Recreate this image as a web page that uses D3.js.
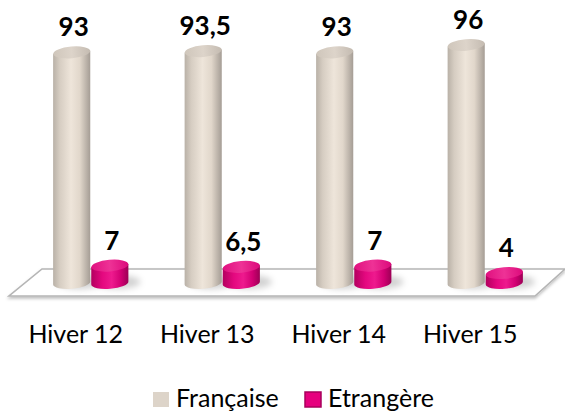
<!DOCTYPE html>
<html>
<head>
<meta charset="utf-8">
<script src="https://cdn.jsdelivr.net/npm/d3@7"></script>
<style>
  body { margin: 0; background: #fff; }
  svg { display: block; }
</style>
</head>
<body>
<div id="chart"></div>
<script>
// data
var categories = ["Hiver 12", "Hiver 13", "Hiver 14", "Hiver 15"];
var seriesNames = ["Française", "Etrangère"];
var francaise = [93, 93.5, 93, 96];
var etrangere = [7, 6.5, 7, 4];

var width = 565, height = 411;

var svg = d3.select("#chart").append("svg")
    .attr("width", width)
    .attr("height", height);

var defs = svg.append("defs");

function hGrad(id, stops) {
    var g = defs.append("linearGradient").attr("id", id)
        .attr("x1", "0%").attr("x2", "100%").attr("y1", "0%").attr("y2", "0%");
    stops.forEach(s => g.append("stop").attr("offset", s[0]).attr("stop-color", s[1]));
}
hGrad("fr-body", [["0%", "#b9b1a7"], ["18%", "#d6cdc2"], ["48%", "#eee5da"], ["72%", "#e1d7cb"], ["100%", "#a59d95"]]);
hGrad("fr-top", [["0%", "#cfc6bb"], ["50%", "#ddd4ca"], ["100%", "#c4bbb1"]]);
hGrad("et-body", [["0%", "#b3005f"], ["30%", "#e4087f"], ["55%", "#ee1a8e"], ["80%", "#d20073"], ["100%", "#9c0055"]]);
hGrad("et-top", [["0%", "#e0107f"], ["50%", "#ee3296"], ["100%", "#dc0a7b"]]);

var blur = defs.append("filter").attr("id", "soft").attr("x", "-50%").attr("y", "-50%")
    .attr("width", "200%").attr("height", "200%");
blur.append("feGaussianBlur").attr("stdDeviation", 3);

var floorShadow = defs.append("filter").attr("id", "floorShadow").attr("x", "-10%").attr("y", "-30%")
    .attr("width", "120%").attr("height", "180%");
floorShadow.append("feDropShadow").attr("dx", 0).attr("dy", 2).attr("stdDeviation", 1.5)
    .attr("flood-color", "#000").attr("flood-opacity", 0.25);

// scales
var x0 = d3.scaleBand()
    .domain(categories)
    .range([25, 551])
    .paddingInner(0.42)
    .paddingOuter(0.21);

var x1 = d3.scaleBand()
    .domain(seriesNames)
    .range([0, x0.bandwidth()]);

var y = d3.scaleLinear()
    .domain([0, 100])
    .range([283, 35]);

var fmt = d3.formatLocale({ decimal: ",", thousands: " ", grouping: [3], currency: ["", "€"] }).format("~g");

// floor (3d plane)
svg.append("path")
    .attr("d", "M42,269 L565,269 L535,296 L9,296 Z")
    .attr("fill", "#fff")
    .attr("stroke", "#b5b5b5")
    .attr("stroke-width", 1.6)
    .attr("filter", "url(#floorShadow)");

var rx = x1.bandwidth() / 2 - 0.5, ry = 5.8, tilt = -5;
var dy = rx * Math.sin(-tilt * Math.PI / 180);

var data = categories.map((c, i) => ({
    cat: c,
    vals: [
        { key: seriesNames[0], value: francaise[i], body: "url(#fr-body)", top: "url(#fr-top)" },
        { key: seriesNames[1], value: etrangere[i], body: "url(#et-body)", top: "url(#et-top)" }
    ]
}));

function cxOf(d) { return x0(d.cat) + x1(d.key) + x1.bandwidth() / 2; }

// soft shadows on the floor
var shadows = svg.append("g").attr("filter", "url(#soft)");
data.forEach(d => {
    d.vals.forEach(v => {
        shadows.append("ellipse")
            .attr("cx", cxOf({ cat: d.cat, key: v.key }) + 8)
            .attr("cy", y(0) - 1)
            .attr("rx", rx + 4)
            .attr("ry", ry + 1)
            .attr("fill", "#000")
            .attr("opacity", 0.18);
    });
});

var groups = svg.append("g").selectAll("g")
    .data(data)
    .enter().append("g");

var cyl = groups.selectAll("g")
    .data(d => d.vals.map(v => Object.assign({ cat: d.cat }, v)))
    .enter().append("g");

cyl.append("path")
    .attr("d", d => {
        var cx = cxOf(d);
        var yt = y(d.value), yb = y(0);
        return `M${cx - rx},${yt + dy} L${cx - rx},${yb + dy} A${rx},${ry} ${tilt} 0 0 ${cx + rx},${yb - dy} L${cx + rx},${yt - dy} Z`;
    })
    .attr("fill", d => d.body);

cyl.append("ellipse")
    .attr("cx", d => cxOf(d))
    .attr("cy", d => y(d.value))
    .attr("rx", rx)
    .attr("ry", ry)
    .attr("transform", d => `rotate(${tilt}, ${cxOf(d)}, ${y(d.value)})`)
    .attr("fill", d => d.top);

// value labels
cyl.append("text")
    .attr("x", d => cxOf(d) + 2)
    .attr("y", d => y(d.value) - 16)
    .attr("text-anchor", "middle")
    .attr("font-family", "Lato, 'Open Sans', sans-serif")
    .attr("font-weight", "bold")
    .attr("font-size", 26)
    .attr("fill", "#000")
    .text(d => fmt(d.value));

// category axis
var xAxis = d3.axisBottom(x0).tickSize(0).tickPadding(0);
var axisG = svg.append("g")
    .attr("transform", "translate(-15, 325)")
    .call(xAxis);
axisG.select(".domain").remove();
axisG.selectAll("text")
    .attr("dy", "0.71em")
    .attr("font-family", "Lato, 'Open Sans', sans-serif")
    .attr("font-size", 25)
    .attr("fill", "#000");

// legend
var legendItems = [
    { name: seriesNames[0], x: 153, fill: "#ddd4c9", stroke: "none" },
    { name: seriesNames[1], x: 305, fill: "#e6007e", stroke: "#a8005c" }
];
var legend = svg.append("g");
legendItems.forEach(it => {
    legend.append("rect")
        .attr("x", it.x).attr("y", 392)
        .attr("width", 16).attr("height", 15)
        .attr("fill", it.fill)
        .attr("stroke", it.stroke)
        .attr("stroke-width", 1.5);
    legend.append("text")
        .attr("x", it.x + 23).attr("y", 407)
        .attr("font-family", "Lato, 'Open Sans', sans-serif")
        .attr("font-size", 25)
        .attr("fill", "#000")
        .text(it.name);
});
</script>
</body>
</html>
